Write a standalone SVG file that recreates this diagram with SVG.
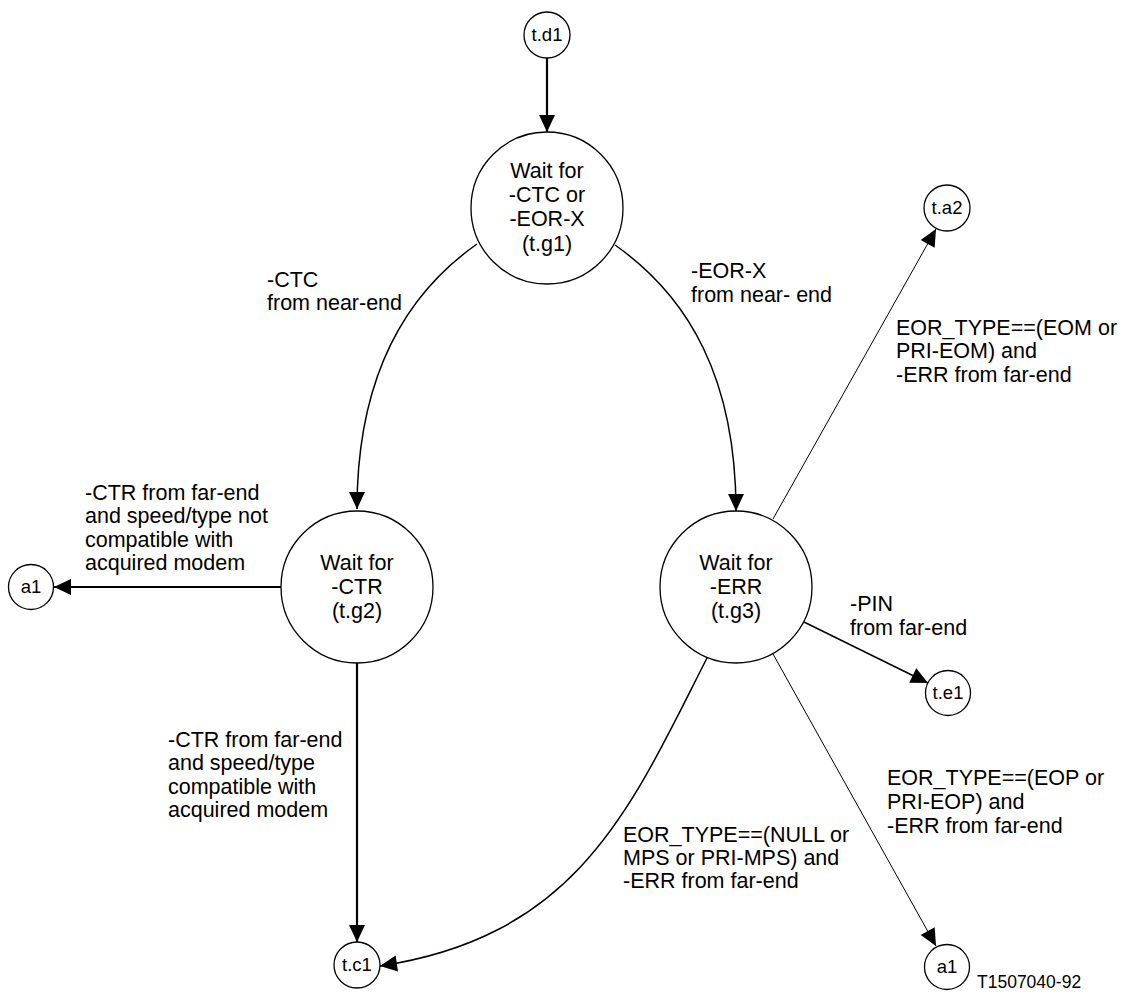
<svg xmlns="http://www.w3.org/2000/svg" width="1126" height="994" viewBox="0 0 1126 994">
<style>
.bg{fill:#ffffff}
.node{fill:#ffffff;stroke:#000;stroke-width:1.3}
.t{font-family:"Liberation Sans",Arial,sans-serif;font-size:21.5px;fill:#000}
.c{text-anchor:middle}
.s{font-size:18.5px}
.code{font-family:"Liberation Sans",Arial,sans-serif;font-size:17.5px;fill:#000}
.e{fill:none;stroke:#000}
.thick{stroke-width:2.2}
.mid{stroke-width:1.5}
.thin{stroke-width:1}
</style>
<defs>
<marker id="ah" markerUnits="userSpaceOnUse" markerWidth="18" markerHeight="16" refX="17" refY="8" orient="auto" overflow="visible">
<path d="M0,0 L17,8 L0,16 Z" fill="#000"/>
</marker>
</defs>
<rect class="bg" x="0" y="0" width="1126" height="994"/>
<g id="connectors">
<path class="e thick" d="M547,58 L547,132" marker-end="url(#ah)"/>
<path class="e mid" d="M477,244 C403,296 357,379 357,509" marker-end="url(#ah)"/>
<path class="e mid" d="M615,245 C689,297 736,379 736,511" marker-end="url(#ah)"/>
<path class="e thick" d="M281,587 L54,587" marker-end="url(#ah)"/>
<path class="e thick" d="M357,663 L357,942" marker-end="url(#ah)"/>
<path class="e thin" d="M773,519 L936,229" marker-end="url(#ah)"/>
<path class="e mid" d="M804,622 L928,683" marker-end="url(#ah)"/>
<path class="e thin" d="M773,654 L936,946" marker-end="url(#ah)"/>
<path class="e mid" d="M707,658 C632,805 580,936 380,966" marker-end="url(#ah)"/>
</g>
<g id="td1"><circle class="node" cx="547" cy="35" r="23"/><text class="t c s" x="547" y="41">t.d1</text></g>
<g id="tg1"><circle class="node" cx="547" cy="208" r="76"/>
<text class="t c" x="547" y="178">Wait for</text>
<text class="t c" x="547" y="202">-CTC or</text>
<text class="t c" x="547" y="226">-EOR-X</text>
<text class="t c" x="547" y="251">(t.g1)</text></g>
<g id="tg2"><circle class="node" cx="357" cy="587" r="76"/>
<text class="t c" x="357" y="570">Wait for</text>
<text class="t c" x="357" y="594">-CTR</text>
<text class="t c" x="357" y="618">(t.g2)</text></g>
<g id="tg3"><circle class="node" cx="736" cy="587" r="76"/>
<text class="t c" x="736" y="570">Wait for</text>
<text class="t c" x="736" y="594">-ERR</text>
<text class="t c" x="736" y="618">(t.g3)</text></g>
<g id="a1left"><circle class="node" cx="31" cy="587" r="22.5"/><text class="t c s" x="31" y="593">a1</text></g>
<g id="tc1"><circle class="node" cx="357" cy="965" r="23"/><text class="t c s" x="357" y="971">t.c1</text></g>
<g id="ta2"><circle class="node" cx="947" cy="208" r="23"/><text class="t c s" x="947" y="214">t.a2</text></g>
<g id="te1"><circle class="node" cx="948" cy="693" r="22.5"/><text class="t c s" x="948" y="699">t.e1</text></g>
<g id="a1bottom"><circle class="node" cx="947" cy="967" r="22.5"/><text class="t c s" x="947" y="973">a1</text></g>
<g id="labels">
<text class="t" x="267" y="287">-CTC</text>
<text class="t" x="267" y="310">from near-end</text>
<text class="t" x="691" y="278">-EOR-X</text>
<text class="t" x="691" y="302">from near- end</text>
<text class="t" x="896" y="335">EOR_TYPE==(EOM or</text>
<text class="t" x="896" y="358">PRI-EOM) and</text>
<text class="t" x="896" y="382">-ERR from far-end</text>
<text class="t" x="85" y="500">-CTR from far-end</text>
<text class="t" x="85" y="523">and speed/type not</text>
<text class="t" x="85" y="547">compatible with</text>
<text class="t" x="85" y="570">acquired modem</text>
<text class="t" x="168" y="747">-CTR from far-end</text>
<text class="t" x="168" y="770">and speed/type</text>
<text class="t" x="168" y="794">compatible with</text>
<text class="t" x="168" y="817">acquired modem</text>
<text class="t" x="850" y="611">-PIN</text>
<text class="t" x="850" y="635">from far-end</text>
<text class="t" x="887" y="785">EOR_TYPE==(EOP or</text>
<text class="t" x="887" y="809">PRI-EOP) and</text>
<text class="t" x="887" y="833">-ERR from far-end</text>
<text class="t" x="623" y="842">EOR_TYPE==(NULL or</text>
<text class="t" x="623" y="865">MPS or PRI-MPS) and</text>
<text class="t" x="623" y="888">-ERR from far-end</text>
<text class="code" x="977" y="988">T1507040-92</text>
</g>
</svg>
